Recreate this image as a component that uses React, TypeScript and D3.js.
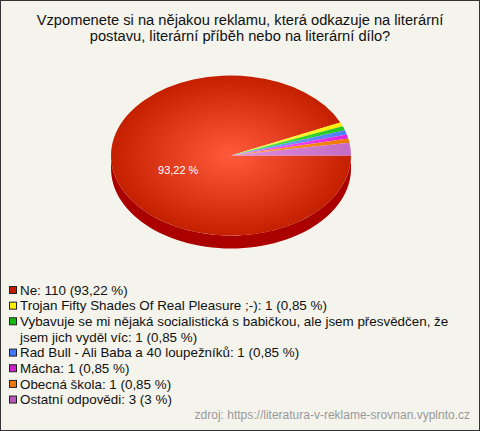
import React from "react";
import * as d3 from "d3";

const categories = [
  "Ne",
  "Trojan Fifty Shades Of Real Pleasure ;-)",
  "Vybavuje se mi nějaká socialistická s babičkou, ale jsem přesvědčen, že jsem jich vyděl víc",
  "Rad Bull - Ali Baba a 40 loupežníků",
  "Mácha",
  "Obecná škola",
  "Ostatní odpovědi",
];
const values = [110, 1, 1, 1, 1, 1, 3];
const percentLabels = ["93,22 %", "0,85 %", "0,85 %", "0,85 %", "0,85 %", "0,85 %", "3 %"];
const sliceColors = ["#c42000", "#ffee00", "#22c422", "#4c7cff", "#dd22dd", "#ee7700", "#c46cc4"];
const sliceCenterColors = ["#ff5a3c", "#ffff66", "#55ee55", "#88aaff", "#ff66ff", "#ffaa44", "#e090e0"];
const markerColors = ["#c02000", "#ffee00", "#11bb11", "#4477ff", "#cc22cc", "#ee7711", "#bb55bb"];
const titleLines = [
  "Vzpomenete si na nějakou reklamu, která odkazuje na literární",
  "postavu, literární příběh nebo na literární dílo?",
];
const sourceText = "zdroj: https://literatura-v-reklame-srovnan.vyplnto.cz";

const W = 480;
const H = 431;
const FONT = "'Liberation Sans', Arial, sans-serif";

function wrap(text: string, maxW: number, font: string): string[] {
  const c = document.createElement("canvas").getContext("2d");
  if (!c) return [text];
  c.font = font;
  const words = text.split(" ");
  const lines: string[] = [];
  let cur = "";
  for (const w of words) {
    const t = cur ? cur + " " + w : w;
    if (c.measureText(t).width > maxW && cur) {
      lines.push(cur);
      cur = w;
    } else cur = t;
  }
  if (cur) lines.push(cur);
  return lines;
}

export default function App() {
  const cx = 231;
  const cy = 155.5;
  const rx = 120;
  const ry = 80;
  const depth = 13;
  const total = d3.sum(values);

  const pie = d3
    .pie<number>()
    .sort(null)
    .startAngle(Math.PI / 2)
    .endAngle(Math.PI / 2 + 2 * Math.PI);
  const arcs = pie(values);
  const arc = d3.arc<d3.PieArcDatum<number>>().innerRadius(0).outerRadius(rx);

  const side = d3.path();
  const steps = 60;
  const pts: [number, number][] = d3.range(steps + 1).map((i) => {
    const a = (Math.PI * i) / steps;
    return [cx + rx * Math.cos(a), cy + ry * Math.sin(a)];
  });
  side.moveTo(pts[0][0], pts[0][1]);
  pts.forEach((p) => side.lineTo(p[0], p[1]));
  for (let i = steps; i >= 0; i--) side.lineTo(pts[i][0], pts[i][1] + depth);
  side.closePath();

  const legendSize = 13.4;
  const legendFont = `${legendSize}px ${FONT}`;
  const legendItems: { lines: string[]; color: string }[] = categories.map((c, i) => ({
    lines: wrap(`${c}: ${values[i]} (${percentLabels[i]})`, 448, legendFont),
    color: markerColors[i],
  }));
  const lineH = 15.65;
  let row = 0;
  const legendY0 = 290;

  const ne = arcs[0];
  const mid = (ne.startAngle + ne.endAngle) / 2;
  const lr = rx * 0.45;
  const lx = cx + lr * Math.sin(mid);
  const ly = cy + depth / 2 - lr * (ry / rx) * Math.cos(mid);

  return (
    <svg
      width={W}
      height={H}
      style={{ position: "absolute", left: 0, top: 0, fontFamily: FONT }}
    >
      <defs>
        {sliceColors.map((c, i) => (
          <radialGradient
            key={i}
            id={`g${i}`}
            gradientUnits="userSpaceOnUse"
            cx={0}
            cy={0}
            r={rx}
          >
            <stop offset="0" stopColor={sliceCenterColors[i]} />
            <stop offset="1" stopColor={c} />
          </radialGradient>
        ))}
      </defs>
      <rect x={0.5} y={0.5} width={W - 1} height={H - 1} fill="#f4f4ec" stroke="#333" />
      <g textAnchor="middle" fontSize={14.7} fill="#111">
        {titleLines.map((t, i) => (
          <text key={i} x={W / 2} y={25 + i * 16}>
            {t}
          </text>
        ))}
      </g>
      <path d={side.toString()} fill="#aa0000" />
      <g transform={`translate(${cx},${cy}) scale(1,${ry / rx})`}>
        {arcs.map((a, i) => (
          <path key={i} d={arc(a) || ""} fill={`url(#g${i})`} />
        ))}
      </g>
      <text x={lx} y={ly + 4} textAnchor="middle" fontSize={11} fill="#fff">
        {((values[0] / total) * 100).toFixed(2).replace(".", ",") + " %"}
      </text>
      <g fontSize={legendSize} fill="#111">
        {legendItems.map((it, i) => {
          const y = legendY0 + row * lineH;
          const g = (
            <g key={i}>
              <rect x={9.5} y={y - 3.5} width={7} height={7} fill={it.color} stroke="#222" strokeWidth={1} />
              {it.lines.map((l, j) => (
                <text key={j} x={20} y={y + 4.7 + j * lineH}>
                  {l}
                </text>
              ))}
            </g>
          );
          row += it.lines.length;
          return g;
        })}
      </g>
      <text x={470} y={419} textAnchor="end" fontSize={12} fill="#999">
        {sourceText}
      </text>
    </svg>
  );
}
